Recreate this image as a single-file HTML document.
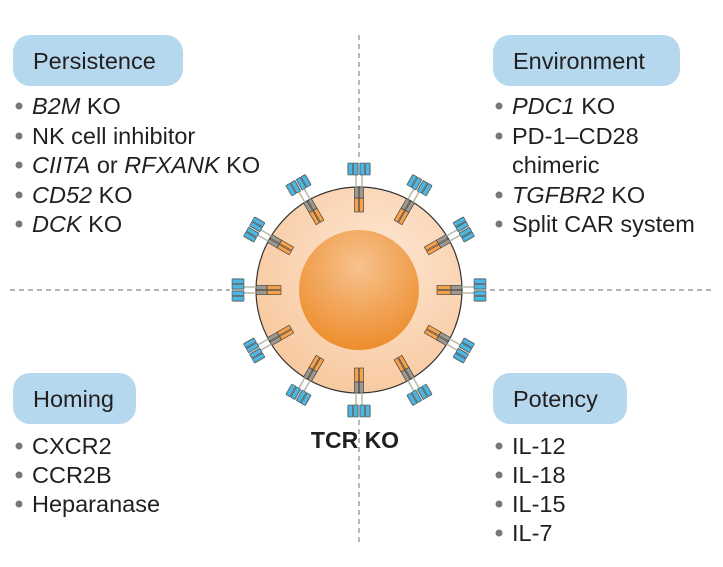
<!DOCTYPE html>
<html><head><meta charset="utf-8"><style>
body{margin:0;background:#fff}
svg{display:block}
text{font-family:"Liberation Sans",sans-serif;fill:#231f20}
.t{font-size:23.5px}
.h{font-size:23.5px}
</style></head><body>
<svg width="723" height="567" viewBox="0 0 723 567">
<defs>
<radialGradient id="cell" cx="0.6" cy="0.35" r="0.7">
<stop offset="0" stop-color="#fde6d2"/><stop offset="1" stop-color="#f8c89e"/>
</radialGradient>
<radialGradient id="nuc" cx="0.5" cy="0.3" r="0.75">
<stop offset="0" stop-color="#f7c28e"/><stop offset="1" stop-color="#ec8a26"/>
</radialGradient>
<g id="rec">
<rect x="-4.5" y="-92" width="4" height="14" fill="#f5a04a" stroke="#333" stroke-width="0.6"/>
<rect x="0.5" y="-92" width="4" height="14" fill="#f5a04a" stroke="#333" stroke-width="0.6"/>
<rect x="-4.5" y="-103" width="4" height="11" fill="#9a9a92" stroke="#333" stroke-width="0.6"/>
<rect x="0.5" y="-103" width="4" height="11" fill="#9a9a92" stroke="#333" stroke-width="0.6"/>
<line x1="-3" y1="-103" x2="-3" y2="-115" stroke="#b8b8a8" stroke-width="1.5"/>
<line x1="3" y1="-103" x2="3" y2="-115" stroke="#b8b8a8" stroke-width="1.5"/>
<rect x="-12" y="-127" width="24" height="12" rx="2" fill="#c9c7b8"/>
<rect x="-11" y="-127" width="4.5" height="12" fill="#4fb4e0" stroke="#333" stroke-width="0.5"/>
<rect x="-5.5" y="-127" width="4.5" height="12" fill="#4fb4e0" stroke="#333" stroke-width="0.5"/>
<rect x="1" y="-127" width="4.5" height="12" fill="#4fb4e0" stroke="#333" stroke-width="0.5"/>
<rect x="6.5" y="-127" width="4.5" height="12" fill="#4fb4e0" stroke="#333" stroke-width="0.5"/>
</g>
</defs>
<g stroke="#888" stroke-width="1.2" stroke-dasharray="5,4">
<line x1="359" y1="35" x2="359" y2="160"/>
<line x1="359" y1="420" x2="359" y2="545"/>
<line x1="10" y1="290" x2="230" y2="290"/>
<line x1="490" y1="290" x2="713" y2="290"/>
</g>
<circle cx="359" cy="290" r="103" fill="url(#cell)" stroke="#333" stroke-width="1.2"/>
<circle cx="359" cy="290" r="60" fill="url(#nuc)"/>
<g transform="translate(359,290)">
<use href="#rec" transform="rotate(0)"/><use href="#rec" transform="rotate(30)"/>
<use href="#rec" transform="rotate(60)"/><use href="#rec" transform="rotate(90)"/>
<use href="#rec" transform="rotate(120)"/><use href="#rec" transform="rotate(150)"/>
<use href="#rec" transform="rotate(180)"/><use href="#rec" transform="rotate(210)"/>
<use href="#rec" transform="rotate(240)"/><use href="#rec" transform="rotate(270)"/>
<use href="#rec" transform="rotate(300)"/><use href="#rec" transform="rotate(330)"/>
</g>
<text x="355" y="448" text-anchor="middle" style="font-size:23px;font-weight:bold">TCR KO</text>

<g fill="#b5d8ee">
<rect x="13" y="35" width="170" height="51" rx="17"/>
<rect x="493" y="35" width="187" height="51" rx="17"/>
<rect x="13" y="373" width="123" height="51" rx="17"/>
<rect x="493" y="373" width="134" height="51" rx="17"/>
</g>
<text class="h" x="33" y="69">Persistence</text>
<text class="h" x="513" y="69">Environment</text>
<text class="h" x="33" y="407">Homing</text>
<text class="h" x="513" y="407">Potency</text>

<g fill="#777">
<circle cx="19" cy="106" r="3.5"/><circle cx="19" cy="136" r="3.5"/><circle cx="19" cy="165" r="3.5"/><circle cx="19" cy="195" r="3.5"/><circle cx="19" cy="224" r="3.5"/>
<circle cx="499" cy="106" r="3.5"/><circle cx="499" cy="136" r="3.5"/><circle cx="499" cy="195" r="3.5"/><circle cx="499" cy="224" r="3.5"/>
<circle cx="19" cy="446" r="3.5"/><circle cx="19" cy="475" r="3.5"/><circle cx="19" cy="504" r="3.5"/>
<circle cx="499" cy="446" r="3.5"/><circle cx="499" cy="475" r="3.5"/><circle cx="499" cy="504" r="3.5"/><circle cx="499" cy="533" r="3.5"/>
</g>
<text class="t" x="32" y="114"><tspan font-style="italic">B2M</tspan> KO</text>
<text class="t" x="32" y="144">NK cell inhibitor</text>
<text class="t" x="32" y="173"><tspan font-style="italic">CIITA</tspan> or <tspan font-style="italic">RFXANK</tspan> KO</text>
<text class="t" x="32" y="203"><tspan font-style="italic">CD52</tspan> KO</text>
<text class="t" x="32" y="232"><tspan font-style="italic">DCK</tspan> KO</text>
<text class="t" x="512" y="114"><tspan font-style="italic">PDC1</tspan> KO</text>
<text class="t" x="512" y="144">PD-1–CD28</text>
<text class="t" x="512" y="173">chimeric</text>
<text class="t" x="512" y="203"><tspan font-style="italic">TGFBR2</tspan> KO</text>
<text class="t" x="512" y="232">Split CAR system</text>
<text class="t" x="32" y="454">CXCR2</text>
<text class="t" x="32" y="483">CCR2B</text>
<text class="t" x="32" y="512">Heparanase</text>
<text class="t" x="512" y="454">IL-12</text>
<text class="t" x="512" y="483">IL-18</text>
<text class="t" x="512" y="512">IL-15</text>
<text class="t" x="512" y="541">IL-7</text>
</svg>
</body></html>
